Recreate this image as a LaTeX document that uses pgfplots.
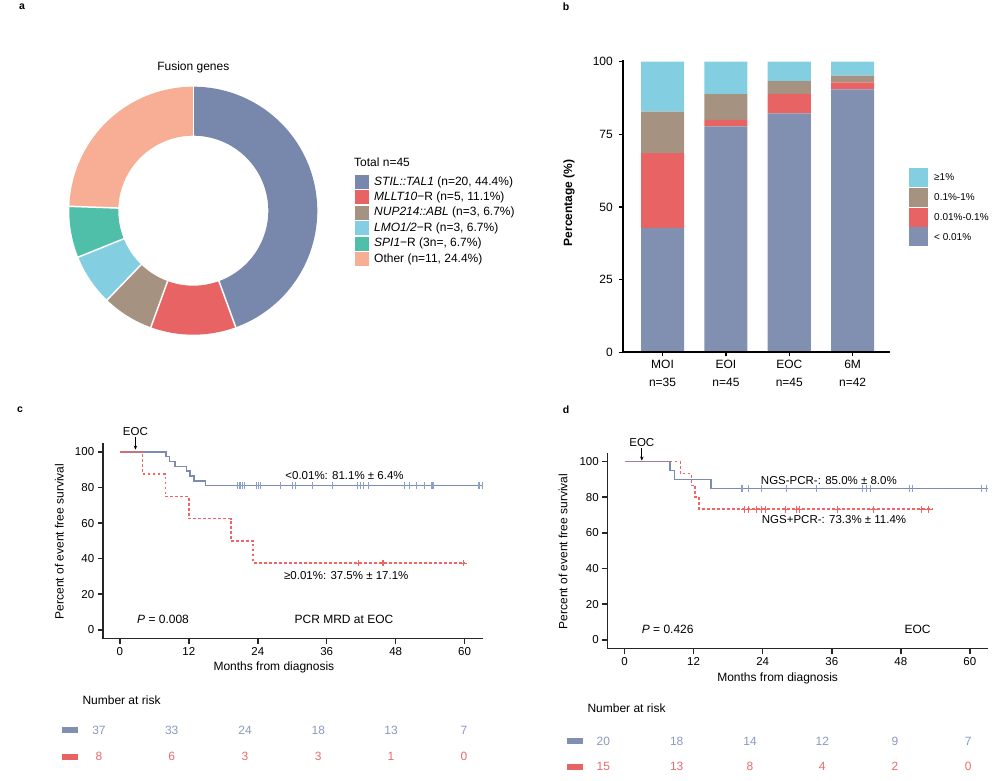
\documentclass[border=0pt]{standalone}
\usepackage{fontspec}
\setmainfont{Liberation Sans}
\usepackage{pgfplots}
\pgfplotsset{compat=1.18}
\usetikzlibrary{arrows.meta}
\definecolor{cA}{HTML}{7888AD}
\definecolor{cB}{HTML}{E86464}
\definecolor{cC}{HTML}{A59280}
\definecolor{cD}{HTML}{84CEE2}
\definecolor{cE}{HTML}{4FBFAA}
\definecolor{cF}{HTML}{F8AE94}
\definecolor{bA}{HTML}{8190B0}
\definecolor{kmB}{HTML}{7D8BB0}
\definecolor{kmBc}{HTML}{8AA0CC}
\definecolor{kmR}{HTML}{F06464}
\definecolor{rkB}{HTML}{8A99BE}
\definecolor{rkR}{HTML}{EE6A6A}
\newcommand{\fs}[1]{\fontsize{#1}{#1}\selectfont}
\pgfplotsset{
  kmaxis/.style={
    scale only axis, anchor=south west,
    xmin=-3, xmax=63.2, ymin=-5, ymax=105,
    enlargelimits=false,
    axis lines=left, axis line style={-, line width=1.6pt, black!85},
    xtick={0,12,...,60}, ytick={0,20,...,100},
    tick align=outside, major tick length=5pt,
    tick style={line width=1.5pt, black!85},
    tick label style={font=\fs{11.5}},
    /pgf/number format/assume math mode=true,
    clip=false,
  },
  censB/.style={kmBc, only marks, mark=|, mark size=3.4pt, mark options={line width=1.1pt}},
  censR/.style={kmR, only marks, mark=+, mark size=3.4pt, mark options={line width=1.1pt, solid}},
}
\begin{document}
\begin{tikzpicture}
\useasboundingbox (0pt,0pt) rectangle (1002pt,781pt);
% panel letters
\node[font=\bfseries\fs{10.5}] at (22pt,774pt) {a};
\node[font=\bfseries\fs{10.5}] at (566pt,774pt) {b};
\node[font=\bfseries\fs{10.5}] at (20pt,371pt) {c};
\node[font=\bfseries\fs{10.5}] at (566pt,371pt) {d};

% ---------------- panel a: donut ----------------
\node[font=\fs{12}] at (193.3pt,713.3pt) {Fusion genes};
\begin{axis}[at={(193.3pt,570.3pt)}, anchor=center, width=248pt, height=248pt,
  scale only axis, hide axis, xmin=-124, xmax=124, ymin=-124, ymax=124, clip=false]
\addplot[cA, line width=49pt, domain=-70:90, samples=90] ({99.5*cos(x)},{99.5*sin(x)});
\addplot[cB, line width=49pt, domain=-110:-70, samples=30] ({99.5*cos(x)},{99.5*sin(x)});
\addplot[cC, line width=49pt, domain=-134:-110, samples=20] ({99.5*cos(x)},{99.5*sin(x)});
\addplot[cD, line width=49pt, domain=-158:-134, samples=20] ({99.5*cos(x)},{99.5*sin(x)});
\addplot[cE, line width=49pt, domain=-182:-158, samples=20] ({99.5*cos(x)},{99.5*sin(x)});
\addplot[cF, line width=49pt, domain=-270:-182, samples=60] ({99.5*cos(x)},{99.5*sin(x)});
\addplot[white, line width=1.5pt] coordinates {(0,74) (0,125)};
\addplot[white, line width=1.5pt] coordinates {(25.3,-69.5) (42.8,-117.5)};
\addplot[white, line width=1.5pt] coordinates {(-25.3,-69.5) (-42.8,-117.5)};
\addplot[white, line width=1.5pt] coordinates {(-51.4,-53.2) (-86.8,-89.9)};
\addplot[white, line width=1.5pt] coordinates {(-68.6,-27.7) (-115.9,-46.8)};
\addplot[white, line width=1.5pt] coordinates {(-74.0,2.6) (-124.9,4.4)};
\end{axis}
% legend a
\node[anchor=west, font=\fs{12}, inner sep=0pt] at (354pt,619pt) {Total n=45};
\fill[cA] (355pt,592pt) rectangle (369pt,606pt);
\fill[cB] (355pt,576.7pt) rectangle (369pt,590.7pt);
\fill[cC] (355pt,561.3pt) rectangle (369pt,575.3pt);
\fill[cD] (355pt,545.7pt) rectangle (369pt,559.7pt);
\fill[cE] (355pt,530.3pt) rectangle (369pt,544.3pt);
\fill[cF] (355pt,514.7pt) rectangle (369pt,528.7pt);
\begin{scope}[every node/.style={anchor=west, font=\fs{12}, inner sep=0pt}]
\node at (374pt,599pt) {\textit{STIL::TAL1} (n=20, 44.4\%)};
\node at (374pt,583.7pt) {\textit{MLLT10}−R (n=5, 11.1\%)};
\node at (374pt,568.3pt) {\textit{NUP214::ABL} (n=3, 6.7\%)};
\node at (374pt,552.7pt) {\textit{LMO1/2}−R (n=3, 6.7\%)};
\node at (374pt,537.3pt) {\textit{SPI1}−R (3n=, 6.7\%)};
\node at (374pt,521.7pt) {Other (n=11, 24.4\%)};
\end{scope}

% ---------------- panel b: stacked bars ----------------
\begin{axis}[at={(623.3pt,428.7pt)}, anchor=south west, width=266.7pt, height=292.3pt,
  scale only axis, xmin=-0.62, xmax=3.59, ymin=0, ymax=100.6, enlargelimits=false,
  ybar stacked, bar width=0.68, axis on top,
  axis lines=left, axis line style={-, line width=1.7pt, black},
  xtick={0,1,2,3}, xticklabels={{MOI\\n=35},{EOI\\n=45},{EOC\\n=45},{6M\\n=42}},
  ytick={0,25,50,75,100},
  tick align=outside, major tick length=4pt, tick style={line width=1.4pt, black},
  xticklabel style={align=center, font=\fontsize{12}{18.7}\selectfont},
  yticklabel style={font=\fs{12}, xshift=-3pt},
  /pgf/number format/assume math mode=true, clip=false]
\addplot[fill=bA, draw=none] coordinates {(0,42.86) (1,77.78) (2,82.22) (3,90.48)};
\addplot[fill=cB, draw=none] coordinates {(0,25.71) (1,2.22) (2,6.67) (3,2.38)};
\addplot[fill=cC, draw=none] coordinates {(0,14.29) (1,8.89) (2,4.44) (3,2.38)};
\addplot[fill=cD, draw=none] coordinates {(0,17.14) (1,11.11) (2,6.67) (3,4.76)};
\end{axis}
\node[rotate=90, font=\bfseries\fs{12}] at (569pt,578pt) {Percentage (\%)};
% legend b
\fill[cD] (909pt,594.3pt) rectangle (928pt,612.7pt);
\fill[cC] (909pt,574.3pt) rectangle (928pt,592.7pt);
\fill[cB] (909pt,554.3pt) rectangle (928pt,573.3pt);
\fill[bA] (909pt,535pt) rectangle (928pt,553.7pt);
\begin{scope}[every node/.style={anchor=west, font=\fs{10}, inner sep=0pt}]
\node at (934pt,603.5pt) {≥1\%};
\node at (934pt,583.5pt) {0.1\%-1\%};
\node at (934pt,563.8pt) {0.01\%-0.1\%};
\node at (934pt,544.3pt) {< 0.01\%};
\end{scope}

% ---------------- panel c: KM ----------------
\begin{axis}[kmaxis, at={(102.7pt,142.3pt)}, width=380.3pt, height=195.7pt]
\addplot[kmB, line width=1.6pt, const plot] coordinates {(0,100) (8.0,97.3) (8.6,94.6) (9.6,91.9) (11.6,89.2) (12.2,86.5) (12.9,83.8) (14.9,81.1) (63.2,81.1)};
\addplot[censB] coordinates {(20.5,81.1) (20.9,81.1) (21.3,81.1) (21.7,81.1) (23.7,81.1) (24.1,81.1) (24.5,81.1) (27.9,81.1) (30.0,81.1) (30.5,81.1) (33.5,81.1) (37.0,81.1) (41.3,81.1) (41.9,81.1) (42.4,81.1) (43.2,81.1) (49.6,81.1) (50.4,81.1) (51.6,81.1) (53.0,81.1) (54.2,81.1) (54.5,81.1) (62.5,81.1) (63.1,81.1)};
\addplot[kmR, line width=1.6pt, dash pattern=on 2.8pt off 2.2pt, const plot] coordinates {(0,100) (3.9,87.5) (7.9,75) (12.0,62.5) (19.3,50) (23.2,37.5) (60,37.5)};
\addplot[censR] coordinates {(41.5,37.5) (45.8,37.5) (59.8,37.5)};
\node[font=\fs{11.5}] at (axis cs:2.7,111.4) {EOC};
\draw[-{Stealth[length=4pt,width=3.5pt]}, line width=0.8pt] (axis cs:2.7,108.3) -- (axis cs:2.7,101.3);
\node[font=\fs{11.5}] at (axis cs:39.1,86.7) {<0.01\%: 81.1\% ± 6.4\%};
\node[font=\fs{11.5}] at (axis cs:39.4,30.6) {≥0.01\%: 37.5\% ± 17.1\%};
\node[font=\fs{12}] at (axis cs:7.5,6.0) {\textit{P} = 0.008};
\node[font=\fs{12}] at (axis cs:39.0,6.0) {PCR MRD at EOC};
\node[font=\fs{12}] at (axis cs:26.8,-21.4) {Months from diagnosis};
\node[font=\fs{12}, rotate=90] at (axis cs:-10.56,49.7) {Percent of event free survival};
\end{axis}
% risk table c
\node[anchor=west, font=\fs{12}, inner sep=0pt] at (82.3pt,81pt) {Number at risk};
\fill[bA] (62pt,48pt) rectangle (78pt,54pt);
\fill[cB] (62pt,21.3pt) rectangle (78pt,27.3pt);
\begin{scope}[every node/.style={font=\fs{12}, text=rkB}]
\node at (99pt,51pt) {37}; \node at (171.7pt,51pt) {33}; \node at (245pt,51pt) {24};
\node at (318.3pt,51pt) {18}; \node at (391pt,51pt) {13}; \node at (464pt,51pt) {7};
\end{scope}
\begin{scope}[every node/.style={font=\fs{12}, text=rkR}]
\node at (99pt,24.3pt) {8}; \node at (171.7pt,24.3pt) {6}; \node at (245pt,24.3pt) {3};
\node at (318.3pt,24.3pt) {3}; \node at (391pt,24.3pt) {1}; \node at (464pt,24.3pt) {0};
\end{scope}

% ---------------- panel d: KM ----------------
\begin{axis}[kmaxis, at={(607.3pt,132.3pt)}, width=381pt, height=196pt]
\addplot[kmB, line width=1.6pt, const plot] coordinates {(0,100) (7.9,95) (8.7,90) (15.0,85) (63.2,85)};
\addplot[censB] coordinates {(20.4,85) (21.5,85) (23.8,85) (28.2,85) (33.4,85) (41.4,85) (42.1,85) (42.7,85) (49.5,85) (50.1,85) (62.0,85) (62.9,85)};
\addplot[kmR, line width=1.6pt, dash pattern=on 2.8pt off 2.2pt, const plot] coordinates {(0,100) (9.7,93.3) (11.6,86.7) (12.2,80.0) (12.9,73.3) (53.6,73.3)};
\addplot[censR] coordinates {(20.9,73.3) (21.5,73.3) (23.0,73.3) (23.8,73.3) (24.5,73.3) (27.9,73.3) (29.9,73.3) (30.4,73.3) (37.0,73.3) (43.3,73.3) (51.6,73.3) (52.8,73.3)};
\node[font=\fs{11.5}] at (axis cs:3.0,110.5) {EOC};
\draw[-{Stealth[length=4pt,width=3.5pt]}, line width=0.8pt] (axis cs:3.0,107.6) -- (axis cs:3.0,100.6);
\node[font=\fs{11.5}] at (axis cs:35.5,89.3) {NGS-PCR-: 85.0\% ± 8.0\%};
\node[font=\fs{11.5}] at (axis cs:36.4,67.4) {NGS+PCR-: 73.3\% ± 11.4\%};
\node[font=\fs{12}] at (axis cs:7.5,6.0) {\textit{P} = 0.426};
\node[font=\fs{12}] at (axis cs:50.9,6.0) {EOC};
\node[font=\fs{12}] at (axis cs:26.6,-21.7) {Months from diagnosis};
\node[font=\fs{12}, rotate=90] at (axis cs:-10.69,49.5) {Percent of event free survival};
\end{axis}
% risk table d
\node[anchor=west, font=\fs{12}, inner sep=0pt] at (587.3pt,72.7pt) {Number at risk};
\fill[bA] (566.7pt,37pt) rectangle (582.7pt,43pt);
\fill[cB] (566.7pt,11.3pt) rectangle (582.7pt,17.3pt);
\begin{scope}[every node/.style={font=\fs{12}, text=rkB}]
\node at (603.3pt,40pt) {20}; \node at (676.7pt,40pt) {18}; \node at (750pt,40pt) {14};
\node at (822.3pt,40pt) {12}; \node at (895pt,40pt) {9}; \node at (968.3pt,40pt) {7};
\end{scope}
\begin{scope}[every node/.style={font=\fs{12}, text=rkR}]
\node at (603.3pt,14.3pt) {15}; \node at (676.7pt,14.3pt) {13}; \node at (750pt,14.3pt) {8};
\node at (822.3pt,14.3pt) {4}; \node at (895pt,14.3pt) {2}; \node at (968.3pt,14.3pt) {0};
\end{scope}
\end{tikzpicture}
\end{document}
